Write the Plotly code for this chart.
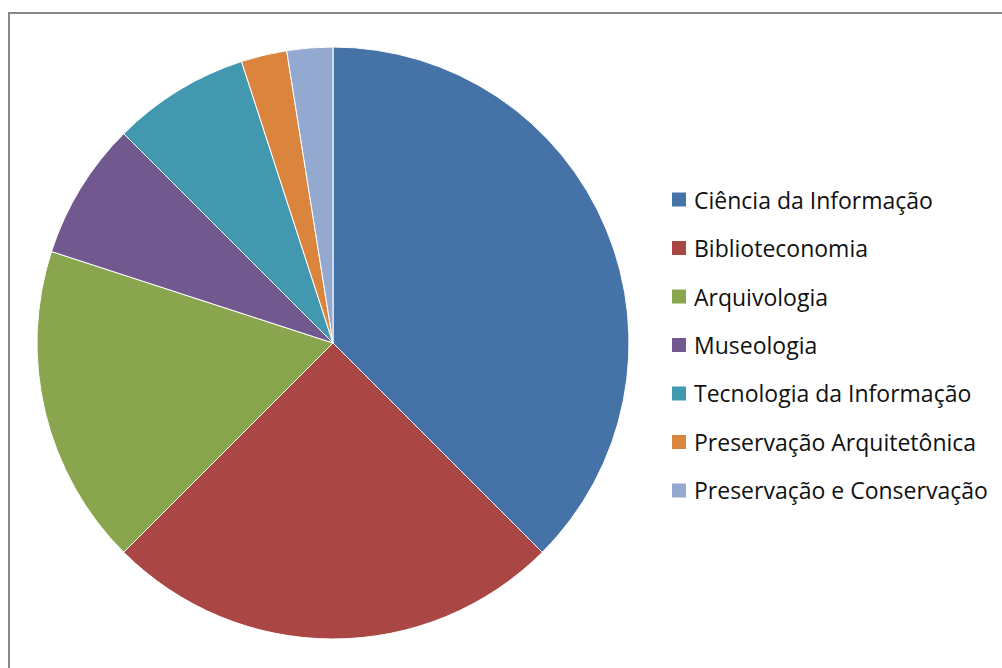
import plotly.graph_objects as go

labels = ["Ciência da Informação", "Biblioteconomia", "Arquivologia", "Museologia",
          "Tecnologia da Informação", "Preservação Arquitetônica", "Preservação e Conservação"]
values = [15, 10, 7, 3, 3, 1, 1]
colors = ["#4572A7", "#AA4643", "#89A54E", "#71588F", "#4198AF", "#DB843D", "#93A9CF"]

W, H = 1002, 668
cx, cy, r = 333, 343, 296

fig = go.Figure(go.Pie(
    labels=labels, values=values, sort=False, direction="clockwise", rotation=0,
    marker=dict(colors=colors, line=dict(color="white", width=1)),
    textinfo="none", hoverinfo="label+value+percent",
    domain=dict(x=[(cx - r) / W, (cx + r) / W], y=[(H - cy - r) / H, (H - cy + r) / H]),
    showlegend=False,
))

shapes = [dict(type="rect", xref="paper", yref="paper", x0=9 / W, x1=1.02, y0=-0.02, y1=(H - 13) / H,
               line=dict(color="#878787", width=2), fillcolor="rgba(0,0,0,0)", layer="below")]
annotations = []
y0, dy = 199.5, 48.5
for i, (lab, col) in enumerate(zip(labels, colors)):
    yc = y0 + i * dy
    shapes.append(dict(type="rect", xref="paper", yref="paper",
                       x0=672 / W, x1=686 / W, y0=(H - yc - 7) / H, y1=(H - yc + 7) / H,
                       fillcolor=col, line=dict(width=0)))
    annotations.append(dict(text=lab, xref="paper", yref="paper", x=692 / W, y=(H - yc) / H,
                            xanchor="left", yanchor="middle", showarrow=False,
                            font=dict(family="Open Sans", size=23, color="#111111")))

fig.update_layout(width=W, height=H, margin=dict(l=0, r=0, t=0, b=0),
                  paper_bgcolor="white", plot_bgcolor="white",
                  shapes=shapes, annotations=annotations)
fig.write_html("out.html", config={"displayModeBar": False},
               post_script="document.body.style.margin='0';document.body.style.padding='0';")
